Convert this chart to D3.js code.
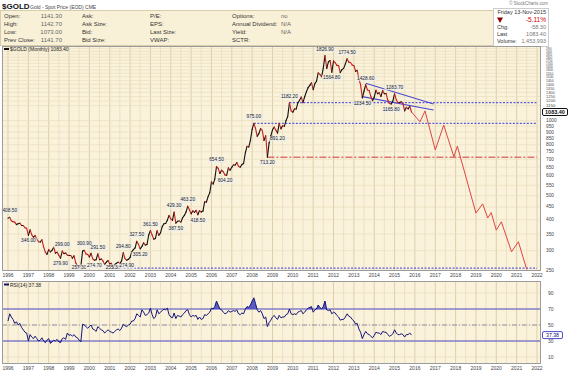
<!DOCTYPE html>
<html>
<head>
<meta charset="utf-8">
<script src="https://cdn.jsdelivr.net/npm/d3@7"></script>
<style>
body { margin: 0; background: #fff; }
svg text { font-family: "Liberation Sans", Arial, sans-serif; }
</style>
</head>
<body>
<div id="chart"></div>
<script>
const width = 570
const height = 372

// monthly closes, Jan 1996 .. Nov 2015
const closes = [
  405, 408.5, 396, 392, 391, 382, 385, 387, 379, 379, 371, 369,
  346, 364, 348, 340, 345, 334, 326, 325, 332, 311, 296, 290,
  303, 297, 301, 310, 293, 296, 288, 279.9, 299, 292, 294, 288,
  287, 287, 280, 286, 268, 261, 257.3, 260, 299, 300.9, 291, 290,
  283, 293, 278, 274.7, 276, 291.5, 276, 278, 273, 264, 270, 274,
  265, 267, 255.3, 264, 267, 270, 266, 273, 294.8, 279, 274.9, 277,
  282, 297, 303, 308, 327.5, 318, 305.2, 312, 323, 316, 318, 347,
  361.5, 347, 334, 336, 361, 346, 354, 375, 385, 386, 398, 416,
  403, 397, 429.3, 387.5, 394, 395, 391, 407, 416, 429, 453, 438,
  422, 434, 428, 436, 418.5, 435, 429, 433, 473, 470, 495, 513,
  568, 556, 582, 654.5, 643, 613, 632, 623, 604.2, 604, 646, 632,
  650, 665, 662, 679, 655, 650, 666, 673, 743, 789, 783, 834,
  923, 975, 933, 865, 887, 930, 913, 833, 870, 713.2, 814, 869,
  919, 942, 916, 891.2, 975, 927, 955, 949, 1002, 1040, 1182.2, 1096,
  1081, 1116, 1113, 1180, 1207, 1244, 1181, 1248, 1307, 1357, 1386, 1421,
  1332, 1410, 1439, 1556, 1536, 1500, 1628, 1826.9, 1620, 1722, 1746, 1564.8,
  1740, 1709, 1669, 1664, 1561, 1604, 1622, 1692, 1774.5, 1719, 1714, 1675,
  1664, 1578, 1595, 1472, 1393, 1234.5, 1313, 1396, 1328, 1323, 1253, 1202,
  1244, 1326, 1284, 1296, 1250, 1322, 1282, 1287, 1210, 1172, 1165.8, 1199,
  1283.7, 1213, 1183, 1182, 1190, 1172, 1095, 1132, 1115, 1142, 1083.4
]

// RSI(14), same months
const rsi = [
  55, 64, 60, 57, 52, 54, 50, 52, 47, 44, 41, 40,
  30, 38, 35, 33, 36, 33, 30, 31, 34, 30, 28, 31,
  33, 27, 29, 31, 30, 32, 29, 28, 33, 34, 32, 40,
  37, 38, 36, 38, 35, 34, 31, 29, 51, 50, 48, 46,
  48, 50, 45, 44, 42, 48, 46, 44, 43, 40, 42, 44,
  42, 41, 40, 42, 44, 45, 43, 46, 51, 49, 48, 50,
  51, 55, 55, 58, 64, 62, 60, 69, 66, 62, 63, 65,
  71, 63, 58, 60, 69, 64, 66, 68, 70, 69, 71, 63,
  60, 59, 65, 58, 62, 61, 60, 63, 65, 68, 69, 63,
  60, 62, 61, 62, 57, 60, 57, 58, 63, 62, 64, 66,
  71, 70, 73, 80, 75, 70, 69, 66, 64, 65, 68, 66,
  67, 68, 67, 69, 64, 63, 65, 64, 70, 73, 72, 75,
  80, 84, 77, 69, 66, 68, 64, 58, 60, 48, 53, 56,
  60, 62, 59, 57, 62, 59, 60, 60, 63, 64, 70, 64,
  63, 64, 63, 66, 67, 68, 64, 66, 69, 71, 72, 73,
  66, 69, 70, 75, 72, 70, 73, 80, 69, 68, 69, 64,
  66, 65, 62, 60, 56, 57, 57, 60, 64, 61, 60, 57,
  55, 51, 52, 45, 41, 33, 38, 42, 39, 38, 36, 34,
  37, 41, 40, 40, 38, 42, 41, 41, 38, 36, 37, 39,
  44, 40, 38, 38, 39, 38, 35, 38, 38, 40, 37.38
]

const annMonths = ["1996-02","1997-01","1998-08","1998-09","1999-07","1999-10","2000-04","2000-06","2001-03","2001-09","2001-11","2002-05","2002-07","2003-01","2004-03","2004-04","2004-11","2005-05","2006-04","2006-09","2008-02","2008-10","2009-04","2009-11","2011-08","2011-12","2012-09","2013-06","2013-08","2014-11","2015-01"]
const annTexts = ["408.50","346.00","279.90","299.00","257.30","300.90","274.70","291.50","255.30","294.80","274.90","327.50","305.20","361.50","429.30","387.50","463.20","418.50","654.50","604.20","975.00","713.20","891.20","1182.20","1826.90","1564.80","1774.50","1234.50","1428.60","1165.80","1283.70"]
const annSides = ["a","b","b","a","b","a","b","a","b","a","b","a","b","a","a","b","a","b","a","b","a","b","b","a","a","b","a","b","a","b","a"]

// hand drawn projection
const projMonths = ["2015-11","2016-04","2016-07","2017-01","2017-06","2017-12","2018-02","2019-01","2019-05","2019-08","2019-10","2020-01","2020-04","2020-10","2021-02","2021-07"]
const projValues = [1083.4, 990, 1094, 762, 960, 716, 790, 425, 463, 406, 427, 363, 392, 297, 326, 252]

const levelValues = [1182.2, 975, 713.2, 255.3]
const levelStarts = ["2009-11","2008-02","2008-10","2001-03"]
const levelKinds = ["blue","blue","red","blue"]

const channelFrom = ["2013-08","2013-06"]
const channelFromVal = [1413, 1249]
const channelTo = ["2016-12","2016-12"]
const channelToVal = [1167, 1104]

const yearLabels = ["1996","1997","1998","1999","2000","2001","2002","2003","2004","2005","2006","2007","2008","2009","2010","2011","2012","2013","2014","2015","2016","2017","2018","2019","2020","2021","2022"]
const priceTicks = [250,300,350,400,450,500,550,600,650,700,750,800,850,900,950,1000,1150,1200,1250,1300,1350,1400,1450,1500,1550,1600,1650,1700,1750,1800,1850,1900,1950]
const rsiTicks = [10,30,50,70,90]

const quoteCol1 = ["Open:","High:","Low:","Prev Close:"]
const quoteVal1 = ["1141.30","1142.70","1073.00","1141.70"]
const quoteCol2 = ["Ask:","Ask Size:","Bid:","Bid Size:"]
const quoteCol3 = ["P/E:","EPS:","Last Size:","VWAP:"]
const quoteCol4 = ["Options:","Annual Dividend:","Yield:","SCTR:"]
const quoteVal4 = ["no","N/A","N/A",""]

let parseMonth = d3.timeParse("%Y-%m")
let months = closes.map((d, i) => new Date(1996, i, 1))

let x = d3.scaleTime()
  .domain([parseMonth("1996-01"), parseMonth("2022-01")])
  .range([8, 537])

let y = d3.scaleLog()
  .domain([250, 2000])
  .range([270.4, 45.8])

let rsiY = d3.scaleLinear()
  .domain([0, 100])
  .range([365, 285])

let svg = d3.select("#chart")
  .append("svg")
  .attr("width", width)
  .attr("height", height)

// header
svg.append("text").attr("x", 2).attr("y", 9)
   .attr("font-size", 8).attr("font-weight", "bold").attr("fill", "#111").text("$GOLD")
svg.append("text").attr("x", 30).attr("y", 9)
   .attr("font-size", 5).attr("fill", "#444").text("Gold - Spot Price (EOD) CME")
svg.append("text").attr("x", 548).attr("y", 5)
   .attr("font-size", 4.5).attr("fill", "#777").attr("text-anchor", "end").text("© StockCharts.com")

svg.append("rect").attr("x", 0.5).attr("y", 10.5).attr("width", 493).attr("height", 35)
   .attr("fill", "#f9f1d7").attr("stroke", "#d8ccaa")

let rowY = [18, 26, 34, 42]
let cols = [[quoteCol1, 4], [quoteCol2, 82], [quoteCol3, 150], [quoteCol4, 232]]
cols.forEach(function(c) {
  c[0].forEach(function(t, i) {
    svg.append("text").attr("x", c[1]).attr("y", rowY[i])
       .attr("font-size", 6).attr("fill", "#333").text(t)
  })
})
quoteVal1.forEach(function(t, i) {
  svg.append("text").attr("x", 62).attr("y", rowY[i]).attr("text-anchor", "end")
     .attr("font-size", 6).attr("fill", "#666").text(t)
})
quoteVal4.forEach(function(t, i) {
  svg.append("text").attr("x", 281).attr("y", rowY[i])
     .attr("font-size", 6).attr("fill", "#666").text(t)
})

svg.append("rect").attr("x", 493.5).attr("y", 8.5).attr("width", 55).attr("height", 38)
   .attr("fill", "#fff").attr("stroke", "#ccc")
svg.append("text").attr("x", 546).attr("y", 14).attr("text-anchor", "end")
   .attr("font-size", 5.5).attr("fill", "#333").text("Friday 13-Nov-2015")
svg.append("path").attr("d", "M497,17.5 L503,17.5 L500,23 Z").attr("fill", "#8b0000")
svg.append("text").attr("x", 546).attr("y", 22).attr("text-anchor", "end")
   .attr("font-size", 6.5).attr("fill", "#c00").text("-5.11%")
let rightRows = [["Chg:", "-58.30", 29], ["Last", "1083.40", 36], ["Volume:", "1,453,993", 43]]
rightRows.forEach(function(r) {
  svg.append("text").attr("x", 497).attr("y", r[2]).attr("font-size", 5.5).attr("fill", "#333").text(r[0])
  svg.append("text").attr("x", 546).attr("y", r[2]).attr("text-anchor", "end")
     .attr("font-size", 5.5).attr("fill", "#777").text(r[1])
})

// panels
let mainTop = 46, mainBottom = 271, rsiTop = 281, rsiBottom = 364, left = 2, right = 541

function panel(top, bottom) {
  let g = svg.append("g")
  g.append("rect").attr("x", left).attr("y", top).attr("width", right - left).attr("height", bottom - top)
   .attr("fill", "#faf2da")
  let halfYears = d3.timeMonth.every(6).range(parseMonth("1996-01"), parseMonth("2022-02"))
  g.selectAll(".vg").data(halfYears).enter().append("line")
   .attr("x1", d => x(d)).attr("x2", d => x(d))
   .attr("y1", top).attr("y2", bottom)
   .attr("stroke", d => d.getMonth() == 0 ? "#ddcfa9" : "#ece1c2").attr("stroke-width", 1)
  return g
}

let mainG = panel(mainTop, mainBottom)
mainG.selectAll(".hg").data(priceTicks).enter().append("line")
  .attr("x1", left).attr("x2", right)
  .attr("y1", d => y(d)).attr("y2", d => y(d))
  .attr("stroke", "#e9dec0").attr("stroke-width", 0.7)

let rsiG = panel(rsiTop, rsiBottom)
rsiG.selectAll(".hg").data(rsiTicks).enter().append("line")
  .attr("x1", left).attr("x2", right)
  .attr("y1", d => rsiY(d)).attr("y2", d => rsiY(d))
  .attr("stroke", "#e9dec0").attr("stroke-width", 0.7)

// horizontal levels
levelValues.forEach(function(v, i) {
  svg.append("line")
     .attr("x1", x(parseMonth(levelStarts[i]))).attr("x2", x(parseMonth("2022-01")))
     .attr("y1", y(v)).attr("y2", y(v))
     .attr("stroke", levelKinds[i] == "red" ? "#d23a3a" : "#5b5be0")
     .attr("stroke-width", levelKinds[i] == "red" ? 1 : 1.3)
     .attr("stroke-dasharray", levelKinds[i] == "red" ? "7,2,2,2" : "2,1.5")
})

// channel
channelFrom.forEach(function(m, i) {
  svg.append("line")
     .attr("x1", x(parseMonth(m))).attr("y1", y(channelFromVal[i]))
     .attr("x2", x(parseMonth(channelTo[i]))).attr("y2", y(channelToVal[i]))
     .attr("stroke", "#4a4ad0").attr("stroke-width", 1.1)
})

// projection
svg.append("path")
   .datum(projMonths.map((m, i) => [parseMonth(m), projValues[i]]))
   .attr("fill", "none").attr("stroke", "#e04545").attr("stroke-width", 1)
   .attr("d", d3.line().x(d => x(d[0])).y(d => y(d[1])))

// price line, black when up, red when down
svg.append("g").selectAll("line")
   .data(d3.pairs(d3.range(closes.length)))
   .enter().append("line")
   .attr("x1", d => x(months[d[0]])).attr("y1", d => y(closes[d[0]]))
   .attr("x2", d => x(months[d[1]])).attr("y2", d => y(closes[d[1]]))
   .attr("stroke", d => closes[d[1]] >= closes[d[0]] ? "#111" : "#c81e1e")
   .attr("stroke-width", 1.1)
   .attr("stroke-linecap", "round")

// price labels
annMonths.forEach(function(m, i) {
  let idx = months.findIndex(d => +d == +parseMonth(m))
  let px = x(months[idx]), py = y(closes[idx]) + (annSides[i] == "a" ? -5 : 7)
  py = Math.min(py, mainBottom - 2.5)
  let w = annTexts[i].length * 2.6 + 2
  svg.append("rect").attr("x", px - w / 2).attr("y", py - 4).attr("width", w).attr("height", 5.5)
     .attr("fill", "#eeeeee").attr("opacity", 0.75)
  svg.append("text").attr("x", px).attr("y", py).attr("text-anchor", "middle")
     .attr("font-size", 4.8).attr("fill", "#222").text(annTexts[i])
})

// legend main
svg.append("rect").attr("x", 4).attr("y", 48).attr("width", 5).attr("height", 2).attr("fill", "#111")
svg.append("text").attr("x", 10).attr("y", 51).attr("font-size", 5).attr("fill", "#222").text("$GOLD (Monthly) 1083.40")

// right axis, labels squeezed where the log scale packs them
svg.append("g").selectAll("text").data(priceTicks).enter().append("text")
   .attr("x", 546).attr("y", d => y(d) + 1.5)
   .attr("font-size", d => Math.min(4.8, (y(d) - y(d + 50)) * 0.95))
   .attr("fill", "#444").text(d => d)
svg.append("rect").attr("x", 542.5).attr("y", y(1083.4) - 3.5).attr("width", 25).attr("height", 7)
   .attr("fill", "#fff").attr("stroke", "#111").attr("rx", 1.5)
svg.append("text").attr("x", 555).attr("y", y(1083.4) + 2).attr("text-anchor", "middle")
   .attr("font-size", 5.5).attr("font-weight", "bold").attr("fill", "#111").text("1083.40")

// x labels
let xLabelRows = [277, 370]
xLabelRows.forEach(function(ly) {
  svg.append("g").selectAll("text").data(yearLabels).enter().append("text")
     .attr("x", d => x(parseMonth(d + "-01"))).attr("y", ly)
     .attr("text-anchor", "middle").attr("font-size", 5).attr("fill", "#444").text(d => d)
})

// RSI panel
let clipHi = svg.append("clipPath").attr("id", "hi")
clipHi.append("rect").attr("x", left).attr("y", rsiTop).attr("width", right - left).attr("height", rsiY(70) - rsiTop)
let clipLo = svg.append("clipPath").attr("id", "lo")
clipLo.append("rect").attr("x", left).attr("y", rsiY(30)).attr("width", right - left).attr("height", rsiBottom - rsiY(30))

svg.append("path").datum(rsi).attr("clip-path", "url(#hi)").attr("fill", "#5c5cc4")
   .attr("d", d3.area().x((d, i) => x(months[i])).y0(rsiY(70)).y1(d => rsiY(d)))
svg.append("path").datum(rsi).attr("clip-path", "url(#lo)").attr("fill", "#5c5cc4")
   .attr("d", d3.area().x((d, i) => x(months[i])).y0(rsiY(30)).y1(d => rsiY(d)))

;[70, 30].forEach(function(v) {
  svg.append("line").attr("x1", left).attr("x2", right).attr("y1", rsiY(v)).attr("y2", rsiY(v))
     .attr("stroke", "#4c4cc8").attr("stroke-width", 1.2)
})
svg.append("line").attr("x1", left).attr("x2", right).attr("y1", rsiY(50)).attr("y2", rsiY(50))
   .attr("stroke", "#7a7a9a").attr("stroke-width", 0.8).attr("stroke-dasharray", "5,2,1,2")

svg.append("path").datum(rsi)
   .attr("fill", "none").attr("stroke", "#14147a").attr("stroke-width", 1)
   .attr("d", d3.line().x((d, i) => x(months[i])).y(d => rsiY(d)))

svg.append("rect").attr("x", 4).attr("y", 283.5).attr("width", 5).attr("height", 2).attr("fill", "#14147a")
svg.append("text").attr("x", 10).attr("y", 286.5).attr("font-size", 5).attr("fill", "#222").text("RSI(14) 37.38")

svg.append("g").selectAll("text").data(rsiTicks).enter().append("text")
   .attr("x", 548).attr("y", d => rsiY(d) + 1.8)
   .attr("font-size", 5).attr("fill", "#444").text(d => d)
svg.append("rect").attr("x", 542.5).attr("y", rsiY(37.38) - 3.5).attr("width", 20).attr("height", 7)
   .attr("fill", "#fff").attr("stroke", "#4c4cc8").attr("rx", 1.5)
svg.append("text").attr("x", 552.5).attr("y", rsiY(37.38) + 2).attr("text-anchor", "middle")
   .attr("font-size", 5.2).attr("fill", "#14147a").text("37.38")

// borders
;[[mainTop, mainBottom], [rsiTop, rsiBottom]].forEach(function(p) {
  svg.append("rect").attr("x", left + 0.5).attr("y", p[0] + 0.5).attr("width", right - left - 1).attr("height", p[1] - p[0] - 1)
     .attr("fill", "none").attr("stroke", "#9c9c9c")
})
</script>
</body>
</html>
